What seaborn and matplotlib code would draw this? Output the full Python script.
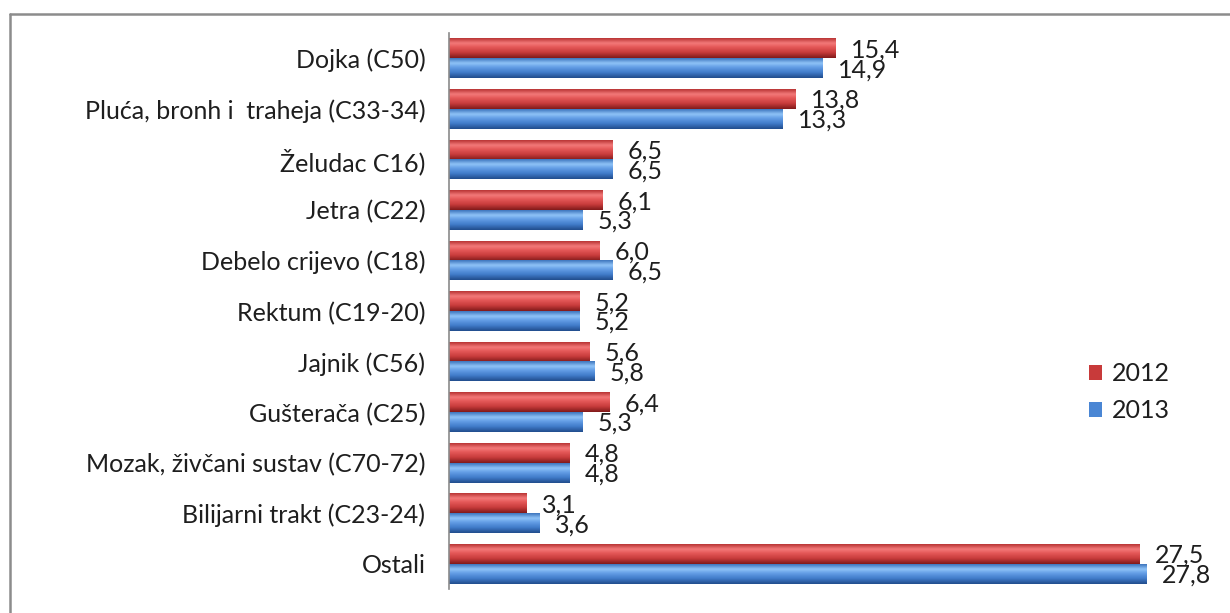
import numpy as np
import pandas as pd
import matplotlib
matplotlib.use("Agg")
import matplotlib.pyplot as plt
import seaborn as sns
from matplotlib.colors import LinearSegmentedColormap
from matplotlib.patches import Patch
from matplotlib.lines import Line2D

categories = [
    "Dojka (C50)",
    "Pluća, bronh i  traheja (C33-34)",
    "Želudac C16)",
    "Jetra (C22)",
    "Debelo crijevo (C18)",
    "Rektum (C19-20)",
    "Jajnik (C56)",
    "Gušterača (C25)",
    "Mozak, živčani sustav (C70-72)",
    "Bilijarni trakt (C23-24)",
    "Ostali",
]
values_2012 = [15.4, 13.8, 6.5, 6.1, 6.0, 5.2, 5.6, 6.4, 4.8, 3.1, 27.5]
values_2013 = [14.9, 13.3, 6.5, 5.3, 6.5, 5.2, 5.8, 5.3, 4.8, 3.6, 27.8]
years = ["2012", "2013"]

base_colors = {"2012": "#C83A3A", "2013": "#4A86D4"}
grad_stops = {
    "2012": ["#B83434", "#F47A7A", "#E45858", "#C83C3C", "#801A1A"],
    "2013": ["#3C74BC", "#90C4F8", "#649EE6", "#417CCA", "#214C8C"],
}

sns.set_theme(style="white")
plt.rcParams["font.family"] = ["Lato", "DejaVu Sans"]

df = pd.DataFrame({
    "cat": categories * 2,
    "val": values_2012 + values_2013,
    "year": [years[0]] * len(categories) + [years[1]] * len(categories),
})

W, H = 1230, 613
fig = plt.figure(figsize=(W / 100, H / 100), dpi=100)
fig.patch.set_facecolor("white")
ax = fig.add_axes([449 / W, 0.0387, 753 / W, 0.946 - 0.0387])

sns.barplot(data=df, y="cat", x="val", hue="year", hue_order=years,
            order=categories, palette=base_colors, width=0.78, orient="h",
            ax=ax, legend=False, saturation=1, errorbar=None)

xlim = (0, 30)
ylim = ax.get_ylim()

for cont, yr in zip(ax.containers, years):
    cmap = LinearSegmentedColormap.from_list(
        "g" + yr, list(zip([0, 0.25, 0.45, 0.72, 1.0], grad_stops[yr])))
    grad = np.linspace(0, 1, 64).reshape(-1, 1)
    for p in cont.patches:
        x0, y0, w, h = p.get_x(), p.get_y(), p.get_width(), p.get_height()
        p.set_facecolor("none")
        p.set_edgecolor("none")
        ax.imshow(grad, cmap=cmap, extent=(x0, x0 + w, y0 + h, y0),
                  aspect="auto", interpolation="bicubic", zorder=2,
                  origin="upper")
        v = x0 + w
        ax.annotate(f"{v:.1f}".replace(".", ","), xy=(v, y0 + h / 2),
                    xytext=(11, -1), textcoords="offset points",
                    ha="left", va="center", fontsize=18, color="#1e1e1e",
                    zorder=5)

ax.set_xlim(*xlim)
ax.set_ylim(*ylim)
ax.set_xlabel("")
ax.set_ylabel("")
ax.set_xticks([])
ax.tick_params(axis="y", length=0, pad=17, labelsize=18, labelcolor="#1e1e1e")
for s in ["top", "right", "bottom"]:
    ax.spines[s].set_visible(False)
ax.spines["left"].set_color("#8a8a8a")
ax.spines["left"].set_linewidth(1.2)
ax.set_facecolor("none")

handles = [Patch(facecolor=base_colors[y], edgecolor="none") for y in years]
fig.legend(handles=handles, labels=years, loc="center left",
           bbox_to_anchor=(1066 / W, 1 - 392 / H), frameon=False,
           fontsize=18, handlelength=0.55, handleheight=0.55,
           handletextpad=0.4, labelspacing=0.55, labelcolor="#1e1e1e")

fig.add_artist(Line2D([10 / W, 10 / W], [0, 1 - 14 / H], transform=fig.transFigure,
                      color="#8c8c8c", lw=1.8))
fig.add_artist(Line2D([10 / W, 1], [1 - 14 / H, 1 - 14 / H], transform=fig.transFigure,
                      color="#8c8c8c", lw=1.8))

fig.savefig("out.png", dpi=100, facecolor="white")
